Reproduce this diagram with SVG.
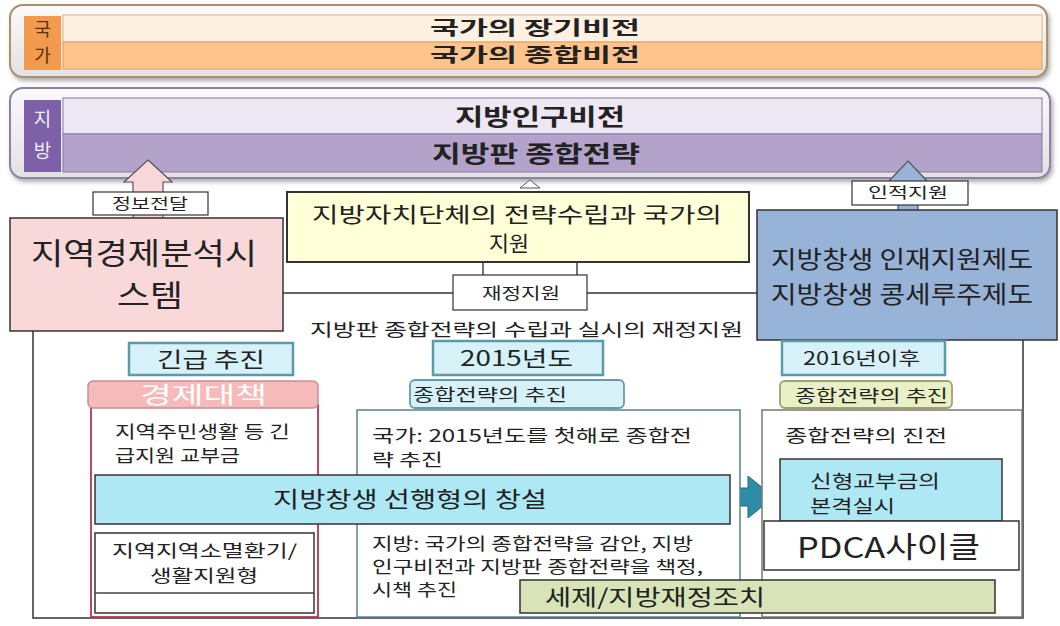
<svg xmlns="http://www.w3.org/2000/svg" width="1060" height="626" viewBox="0 0 1060 626">
<style>
text{font-family:"Noto Sans CJK KR","Noto Sans",sans-serif;fill:#222}
.b{font-weight:bold}
.c{text-anchor:middle}
.lbl{fill:#fff;stroke:#333;stroke-width:1.2}
.tab{fill:#D6F2F8;stroke:#5A9AAA;stroke-width:2.5}
.ln{stroke:#444;stroke-width:1.5;fill:none}
</style>
<defs>
<linearGradient id="pg" x1="0" y1="0" x2="0" y2="1"><stop offset="0" stop-color="#FAFAFA"/><stop offset="1" stop-color="#E2E2E2"/></linearGradient>
<filter id="sh" x="-5%" y="-20%" width="110%" height="150%"><feDropShadow dx="2" dy="3" stdDeviation="2" flood-color="#777" flood-opacity="0.6"/></filter>
</defs>
<rect width="1060" height="626" fill="#fff"/>
<g id="kukka">
<rect x="10" y="5" width="1037" height="72" rx="13" fill="url(#pg)" stroke="#A89070" stroke-width="2" filter="url(#sh)"/>
<rect x="24" y="16" width="37" height="54" fill="#F39A4C"/>
<text x="42.5" y="36" class="c" font-size="18" style="fill:#5a3010">국</text>
<text x="42.5" y="62" class="c" font-size="18" style="fill:#5a3010">가</text>
<rect x="63" y="15" width="979" height="27" fill="#FFF1E2" stroke="#E0B080" stroke-width="1"/>
<rect x="63" y="42" width="979" height="27" fill="#FFC48C" stroke="#E0A060" stroke-width="1"/>
<text x="430" y="35" class="b" font-size="19.5" textLength="210" lengthAdjust="spacingAndGlyphs">국가의 장기비전</text>
<text x="430" y="62" class="b" font-size="19.5" textLength="210" lengthAdjust="spacingAndGlyphs">국가의 종합비전</text>
</g>
<g id="jibang">
<rect x="10" y="88" width="1040" height="90" rx="13" fill="url(#pg)" stroke="#8F80A8" stroke-width="2" filter="url(#sh)"/>
<rect x="24" y="100" width="37" height="72" fill="#7E60A8"/>
<text x="42.5" y="126" class="c" font-size="19" style="fill:#eee">지</text>
<text x="42.5" y="158" class="c" font-size="19" style="fill:#eee">방</text>
<rect x="63" y="98" width="979" height="36" fill="#EEE8F5" stroke="#8A78A8" stroke-width="1"/>
<rect x="63" y="134" width="979" height="38" fill="#B3A3CB" stroke="#8A78A8" stroke-width="1"/>
<text x="455" y="125" class="b" font-size="23" textLength="170" lengthAdjust="spacingAndGlyphs">지방인구비전</text>
<text x="432" y="162" class="b" font-size="23" textLength="208" lengthAdjust="spacingAndGlyphs">지방판 종합전략</text>
</g>
<g id="connectors">
<rect x="33" y="293" width="990" height="325" fill="none" stroke="#333" stroke-width="1.5"/>
<path d="M148 160 L172 182 L163 182 L163 222 L133 222 L133 182 L124 182 Z" fill="#F8D8D8" stroke="#555" stroke-width="1.2"/>
<path d="M908 161 L928 182 L918 182 L918 212 L898 212 L898 182 L888 182 Z" fill="#97B3D8" stroke="#555" stroke-width="1.2"/>
<path d="M530 180 L540 188 L520 188 Z" fill="#fff" stroke="#555" stroke-width="1"/>
<line x1="483" y1="262" x2="483" y2="276" class="ln"/>
<line x1="577" y1="262" x2="577" y2="276" class="ln"/>
<path d="M730 488 L748 488 L748 476 L774 497 L748 518 L748 506 L730 506 Z" fill="#2E8CA8" stroke="#1E6A80" stroke-width="1"/>
</g>
<g id="info-label"><rect x="93" y="192" width="115" height="23" class="lbl"/><text x="112" y="209" font-size="15" textLength="76" lengthAdjust="spacingAndGlyphs">정보전달</text></g>
<g id="human-label"><rect x="852" y="181" width="116" height="24" class="lbl"/><text x="868" y="198" font-size="15" textLength="80" lengthAdjust="spacingAndGlyphs">인적지원</text></g>
<g id="strategy-support">
<rect x="287" y="192" width="462" height="70" fill="#FFFFD8" stroke="#333" stroke-width="2"/>
<text x="312" y="222" font-size="21" textLength="410" lengthAdjust="spacingAndGlyphs">지방자치단체의 전략수립과 국가의</text>
<text x="489" y="251" font-size="21" textLength="40" lengthAdjust="spacingAndGlyphs">지원</text>
</g>
<g id="finance-label"><rect x="453" y="275" width="134" height="35" class="lbl"/><text x="482" y="299" font-size="16" textLength="78" lengthAdjust="spacingAndGlyphs">재정지원</text></g>
<g id="regional-econ">
<rect x="10" y="218" width="273" height="113" fill="#F8D8D8" stroke="#333" stroke-width="1.5"/>
<text x="31" y="264" font-size="30" textLength="226" lengthAdjust="spacingAndGlyphs">지역경제분석시</text>
<text x="117" y="306" font-size="30" textLength="66" lengthAdjust="spacingAndGlyphs">스템</text>
</g>
<g id="human-support">
<rect x="757" y="210" width="300" height="130" fill="#97B3D8" stroke="#333" stroke-width="1.5"/>
<text x="771" y="268" font-size="24" textLength="262" lengthAdjust="spacingAndGlyphs">지방창생 인재지원제도</text>
<text x="771" y="303" font-size="24" textLength="262" lengthAdjust="spacingAndGlyphs">지방창생 콩세루주제도</text>
</g>
<text x="310" y="336" font-size="17.5" textLength="433" lengthAdjust="spacingAndGlyphs">지방판 종합전략의 수립과 실시의 재정지원</text>
<g id="urgent"><rect x="129" y="343" width="164" height="32" class="tab"/><text x="157" y="367" font-size="21" textLength="108" lengthAdjust="spacingAndGlyphs">긴급 추진</text></g>
<g id="y2015"><rect x="433" y="341" width="170" height="34" class="tab"/><text x="460" y="366" font-size="21" textLength="113" lengthAdjust="spacingAndGlyphs">2015년도</text></g>
<g id="y2016"><rect x="782" y="341" width="163" height="34" class="tab"/><text x="803" y="365" font-size="18" textLength="117" lengthAdjust="spacingAndGlyphs">2016년이후</text></g>
<g id="econ-measure">
<rect x="91" y="405" width="227" height="212" fill="#fff" stroke="#C03050" stroke-width="1.8"/>
<rect x="88" y="381" width="230" height="27" rx="5" fill="#F6BABA" stroke="#C89090" stroke-width="1.5"/>
<text x="140" y="403" font-size="23" textLength="127" lengthAdjust="spacingAndGlyphs" style="fill:#fff">경제대책</text>
<text x="115" y="438" font-size="17" textLength="175" lengthAdjust="spacingAndGlyphs">지역주민생활 등 긴</text>
<text x="115" y="462" font-size="17" textLength="125" lengthAdjust="spacingAndGlyphs">급지원 교부금</text>
<rect x="95" y="533" width="219" height="80" fill="#fff" stroke="#333" stroke-width="1.5"/>
<line x1="95" y1="593" x2="314" y2="593" class="ln"/>
<text x="112" y="557" font-size="17" textLength="185" lengthAdjust="spacingAndGlyphs">지역지역소멸환기/</text>
<text x="150" y="582" font-size="17" textLength="108" lengthAdjust="spacingAndGlyphs">생활지원형</text>
</g>
<g id="mid-box">
<rect x="357" y="410" width="383" height="207" fill="#fff" stroke="#5A8090" stroke-width="1.5"/>
<rect x="410" y="380" width="214" height="28" rx="5" fill="#D6F2F8" stroke="#6A9AAA" stroke-width="1.8"/>
<text x="413" y="401" font-size="16.5" textLength="154" lengthAdjust="spacingAndGlyphs">종합전략의 추진</text>
<text x="372" y="442" font-size="17" textLength="320" lengthAdjust="spacingAndGlyphs">국가: 2015년도를 첫해로 종합전</text>
<text x="372" y="466" font-size="17" textLength="71" lengthAdjust="spacingAndGlyphs">략 추진</text>
<text x="372" y="550" font-size="17" textLength="321" lengthAdjust="spacingAndGlyphs">지방: 국가의 종합전략을 감안, 지방</text>
<text x="372" y="573" font-size="17" textLength="331" lengthAdjust="spacingAndGlyphs">인구비전과 지방판 종합전략을 책정,</text>
<text x="372" y="596" font-size="17" textLength="85" lengthAdjust="spacingAndGlyphs">시책 추진</text>
</g>
<g id="right-box">
<rect x="762" y="410" width="260" height="207" fill="#fff" stroke="#777" stroke-width="1.5"/>
<rect x="780" y="381" width="172" height="27" rx="5" fill="#E8F0C4" stroke="#A0A070" stroke-width="1.8"/>
<text x="795" y="402" font-size="16.5" textLength="153" lengthAdjust="spacingAndGlyphs">종합전략의 추진</text>
<text x="785" y="442" font-size="17.5" textLength="162" lengthAdjust="spacingAndGlyphs">종합전략의 진전</text>
<rect x="780" y="459" width="222" height="62" fill="#AEE8F4" stroke="#333" stroke-width="1.5"/>
<text x="810" y="488" font-size="18" textLength="130" lengthAdjust="spacingAndGlyphs">신형교부금의</text>
<text x="810" y="513" font-size="18" textLength="85" lengthAdjust="spacingAndGlyphs">본격실시</text>
<rect x="764" y="521" width="255" height="49" fill="#fff" stroke="#333" stroke-width="1.5"/>
<text x="797" y="558" font-size="29" textLength="183" lengthAdjust="spacingAndGlyphs">PDCA사이클</text>
</g>
<g id="advance">
<rect x="95" y="475" width="635" height="49" fill="#AEE8F4" stroke="#333" stroke-width="1.5"/>
<text x="273" y="507" font-size="22" textLength="274" lengthAdjust="spacingAndGlyphs">지방창생 선행형의 창설</text>
</g>
<g id="tax">
<rect x="520" y="580" width="475" height="33" fill="#D8E4B8" stroke="#333" stroke-width="1.5"/>
<text x="545" y="605" font-size="22" textLength="220" lengthAdjust="spacingAndGlyphs">세제/지방재정조치</text>
</g>
</svg>
